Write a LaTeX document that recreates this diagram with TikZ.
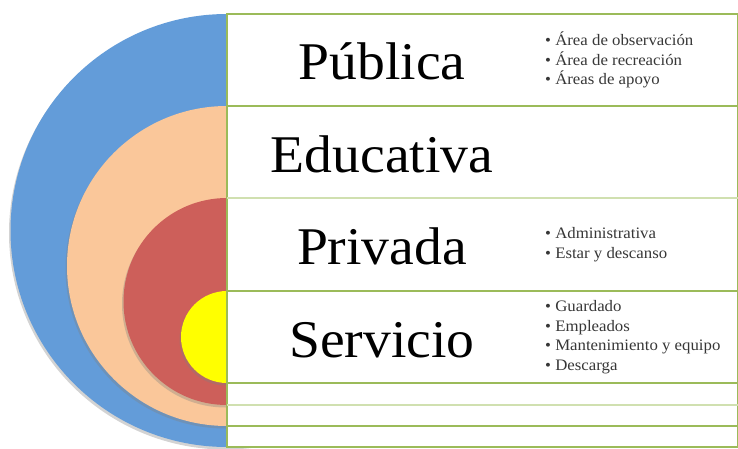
\documentclass[tikz,border=0pt]{standalone}
\usepackage{fontspec}
\setmainfont{Liberation Serif}[FakeStretch=1.05]
\usetikzlibrary{positioning, shadows}
\definecolor{azul}{RGB}{99,156,217}
\definecolor{durazno}{RGB}{250,199,154}
\definecolor{rojo}{RGB}{205,95,90}
\definecolor{amarillo}{RGB}{255,255,0}
\definecolor{verde}{RGB}{155,187,89}
\definecolor{verdeclaro}{RGB}{208,224,176}
\definecolor{gris}{RGB}{55,55,55}
\tikzset{
  fila/.style={rectangle, draw=verde, fill=white, line width=1.6pt,
    minimum width=511pt, inner sep=0pt, outer sep=0pt},
  capa/.style={circle, inner sep=0pt, outer sep=0pt,
    drop shadow={shadow xshift=-1.5pt, shadow yshift=-2.5pt, opacity=0.35}},
  titulo/.style={font=\fontsize{53}{60}\selectfont, text=black,
    inner sep=0pt, anchor=base},
  lista/.style={font=\fontsize{16}{19.5}\selectfont, text=gris,
    align=left, anchor=west, inner sep=0pt},
  lineaclara/.style={draw=verdeclaro, line width=1.6pt}
}

\begin{document}
\begin{tikzpicture}[x=1pt, y=-1pt]
\useasboundingbox (0,0) rectangle (738,449);

% circulos concentricos
\node[capa, fill=azul, minimum size=433pt] (azul) at (227,230.5) {};
\node[capa, fill=durazno, minimum size=320pt] (durazno) at (227,266) {};
\node[capa, fill=rojo, minimum size=207pt] (rojo) at (227,301.5) {};
\node[capa, fill=amarillo, minimum size=92pt] (amarillo) at (227,337) {};

% filas de la tabla
\node[fila, minimum height=92pt, anchor=north west] (r1) at (227,14) {};
\node[fila, minimum height=92pt, below=0pt of r1] (r2) {};
\node[fila, minimum height=93pt, below=0pt of r2] (r3) {};
\node[fila, minimum height=92pt, below=0pt of r3] (r4) {};
\node[fila, minimum height=22pt, below=0pt of r4] (r5) {};
\node[fila, minimum height=21pt, below=0pt of r5] (r6) {};
\node[fila, minimum height=21pt, below=0pt of r6] (r7) {};
\draw[lineaclara] (r3.north west) -- (r3.north east);
\draw[lineaclara] (r6.north west) -- (r6.north east);

% titulos
\node[titulo] (publica) at ([xshift=-100.5pt, yshift=-20pt]r1.center) {Pública};
\node[titulo] (educativa) at ([xshift=-100.5pt, yshift=-20pt]r2.center) {Educativa};
\node[titulo] (privada) at ([xshift=-100.5pt, yshift=-20pt]r3.center) {Privada};
\node[titulo] (servicio) at ([xshift=-100.5pt, yshift=-20pt]r4.center) {Servicio};

% listas
\node[lista] (lpublica) at ([xshift=318pt]r1.west)
  {\textbullet~Área de observación\\\textbullet~Área de recreación\\\textbullet~Áreas de apoyo};
\node[lista] (lprivada) at ([xshift=318pt]r3.west)
  {\textbullet~Administrativa\\\textbullet~Estar y descanso};
\node[lista] (lservicio) at ([xshift=318pt]r4.west)
  {\textbullet~Guardado\\\textbullet~Empleados\\\textbullet~Mantenimiento y equipo\\\textbullet~Descarga};
\end{tikzpicture}
\end{document}
